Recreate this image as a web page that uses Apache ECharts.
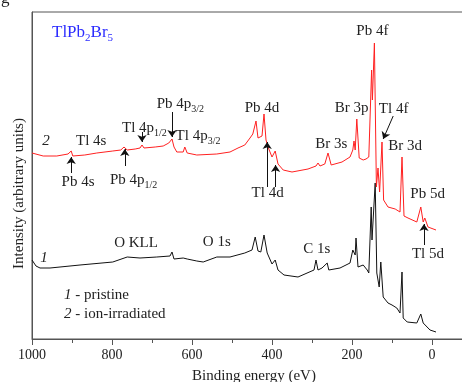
<!DOCTYPE html>
<html>
<head>
<meta charset="utf-8">
<script src="https://cdn.jsdelivr.net/npm/echarts@6/dist/echarts.min.js"></script>
<style>
  html, body { margin: 0; padding: 0; background: #fff; }
  #chart { width: 462px; height: 382px; }
</style>
</head>
<body>
<div id="chart"></div>
<script>
// binding energy (eV) / intensity (arb. units)
const irradiatedEnergy = [1000, 972, 938, 910, 902, 898, 868, 838, 798, 778, 770, 762, 742, 730, 725, 720, 692, 672, 658, 650,
  645, 638, 622, 618, 612, 588, 538, 505, 485, 468, 455, 448, 440, 435, 430, 425, 420, 415, 410, 400,
  392, 385, 372, 350, 310, 290, 285, 280, 268, 260, 252, 225, 205, 198, 195, 192, 188, 182, 172, 165,
  158, 154, 151, 149, 144, 139, 135, 131, 125, 121, 110, 92, 80, 75, 70, 60, 38, 28, 22, 18, 10, -10]
const irradiatedIntensity = [186, 183, 183, 185, 188, 183, 184, 186, 188, 189, 192, 189, 190, 191, 194, 191, 192, 193, 196, 200,
  192, 187, 187, 192, 186, 184, 185, 187, 191, 194, 201, 205, 218, 201, 200, 203, 225, 199, 192, 182,
  188, 175, 169, 167, 170, 173, 176, 173, 175, 186, 174, 177, 182, 189, 198, 189, 220, 181, 179, 180,
  182, 184, 269, 239, 296, 152, 171, 147, 197, 139, 132, 130, 127, 182, 123, 121, 117, 132, 117, 121, 112, 109]

const pristineEnergy = [1000, 990, 980, 955, 880, 798, 762, 730, 688, 655, 650, 645, 622, 618, 612, 588, 572, 538, 505, 468,
  450, 442, 435, 428, 420, 412, 400, 392, 385, 370, 335, 295, 290, 285, 275, 262, 258, 230, 205, 198,
  192, 190, 185, 172, 162, 158, 152, 150, 142, 138, 132, 128, 122, 110, 100, 88, 80, 75, 72, 62,
  38, 28, 22, 18, 5, -10]
const pristineIntensity = [79, 73, 71, 71, 74, 77, 82, 81, 82, 83, 87, 80, 81, 83, 80, 78, 77, 82, 82, 86,
  89, 102, 88, 87, 104, 86, 75, 79, 69, 64, 62, 69, 79, 69, 71, 76, 69, 71, 76, 89,
  84, 101, 72, 74, 69, 66, 132, 99, 156, 66, 52, 77, 42, 36, 34, 31, 26, 67, 21, 17,
  16, 25, 16, 14, 9, 7]

const xMin = -200
const xMax = 1000
const xStep = 200

// peak labels: text, [energy, intensity] where the label sits
const irradiatedLabels = [
  ['{i|2}', 965, 198], ['Tl 4s', 852, 198], ['Pb 4s', 885, 157],
  ['Pb 4p{s|1/2}', 746, 159], ['Tl 4p{s|1/2}', 719, 211],
  ['Pb 4p{s|3/2}', 629, 235], ['Tl 4p{s|3/2}', 585, 203],
  ['Pb 4d', 425, 231], ['Tl 4d', 411, 146], ['Br 3s', 252, 195], ['Br 3p', 201, 231],
  ['Pb 4f', 149, 308], ['Tl 4f', 96, 230], ['Br 3d', 67, 193], ['Pb 5d', 11, 145], ['Tl 5d', 10, 85]
]
const pristineLabels = [
  ['{i|1}', 970, 81], ['O KLL', 740, 96], ['O 1s', 538, 97], ['C 1s', 288, 90]
]
// arrows: tail energy, tail intensity, head energy, head intensity
const arrows = [
  [902, 166, 902, 182], [768, 173, 768, 190], [725, 207, 725, 197], [650, 227, 650, 202],
  [412, 152, 412, 197], [391, 152, 391, 174], [97, 223, 122, 200], [20, 94, 20, 115]
]

const serif = 'Liberation Serif'
const ink = '#222'
const zip = (xs, ys) => xs.map((x, i) => [x, ys[i]])

const labelRich = {
  s: {fontSize: 10, fontFamily: serif, color: ink, verticalAlign: 'bottom', lineHeight: 10},
  i: {fontSize: 15, fontFamily: serif, color: ink, fontStyle: 'italic', lineHeight: 20}
}

const markLabels = (list) => ({
  symbol: 'circle',
  symbolSize: 0,
  silent: true,
  label: {show: true, position: 'inside', color: ink, fontFamily: serif, fontSize: 15, lineHeight: 20, rich: labelRich},
  data: list.map(([text, e, v]) => ({coord: [e, v], label: {formatter: text}}))
})

const chart = echarts.init(document.getElementById('chart'))

chart.setOption({
  animation: false,
  title: {
    text: '{a|TlPb}{s|2}{a|Br}{s|5}',
    left: 52,
    top: 22,
    padding: 0,
    textStyle: {
      fontWeight: 'normal',
      rich: {
        a: {fontSize: 17, fontFamily: serif, fontWeight: 'normal', color: '#2b2bff', lineHeight: 22},
        s: {fontSize: 11, fontFamily: serif, fontWeight: 'normal', color: '#2b2bff', verticalAlign: 'bottom', lineHeight: 11}
      }
    }
  },
  grid: {left: 32, top: 12, right: -50, bottom: 43, show: true, borderColor: '#555', borderWidth: 1, outerBoundsMode: 'none'},
  xAxis: {
    type: 'value',
    min: xMin,
    max: xMax,
    interval: xStep,
    inverse: true,
    name: 'Binding energy (eV)',
    nameLocation: 'middle',
    nameGap: 30,
    nameTextStyle: {fontFamily: serif, fontSize: 15, color: ink, padding: [0, 36, 0, 0]},
    axisLine: {onZero: false, lineStyle: {color: '#555'}},
    axisTick: {length: 6, lineStyle: {color: '#555'}},
    minorTick: {show: true, splitNumber: 2, length: 4, lineStyle: {color: '#555'}},
    axisLabel: {fontFamily: serif, fontSize: 14, color: ink, margin: 9, formatter: (v) => String(v)},
    splitLine: {show: false}
  },
  yAxis: {
    type: 'value',
    min: 0,
    max: 327,
    name: 'Intensity (arbitrary units)',
    nameLocation: 'middle',
    nameGap: 5,
    nameTextStyle: {fontFamily: serif, fontSize: 15, color: ink, padding: [0, 36, 0, 0]},
    axisLine: {show: true, onZero: false, lineStyle: {color: '#555'}},
    axisTick: {show: false},
    axisLabel: {show: false},
    splitLine: {show: false}
  },
  graphic: [
    {type: 'text', x: 1, y: 7, style: {text: 'g', fontSize: 17, fontFamily: serif, fill: ink, verticalAlign: 'bottom'}},
    {type: 'text', left: 64, top: 288, style: {text: '{i|1} - pristine', fontSize: 15, fontFamily: serif, fill: ink, rich: {i: {fontStyle: 'italic', fontSize: 15, fontFamily: serif, fill: ink}}}},
    {type: 'text', left: 64, top: 307, style: {text: '{i|2} - ion-irradiated', fontSize: 15, fontFamily: serif, fill: ink, rich: {i: {fontStyle: 'italic', fontSize: 15, fontFamily: serif, fill: ink}}}}
  ],
  series: [
    {
      name: 'pristine',
      type: 'line',
      data: zip(pristineEnergy, pristineIntensity),
      symbol: 'none',
      color: '#111',
      lineStyle: {color: '#111', width: 1},
      markPoint: markLabels(pristineLabels)
    },
    {
      name: 'ion-irradiated',
      type: 'line',
      data: zip(irradiatedEnergy, irradiatedIntensity),
      symbol: 'none',
      color: '#ff2020',
      lineStyle: {color: '#ff2020', width: 1},
      markPoint: markLabels(irradiatedLabels),
      markLine: {
        silent: true,
        symbol: ['none', 'arrow'],
        symbolSize: 7,
        label: {show: false},
        lineStyle: {color: '#111', width: 1, type: 'solid'},
        data: arrows.map(([e1, v1, e2, v2]) => [{coord: [e1, v1]}, {coord: [e2, v2]}])
      }
    }
  ]
})

window.addEventListener('resize', () => chart.resize())
</script>
</body>
</html>
